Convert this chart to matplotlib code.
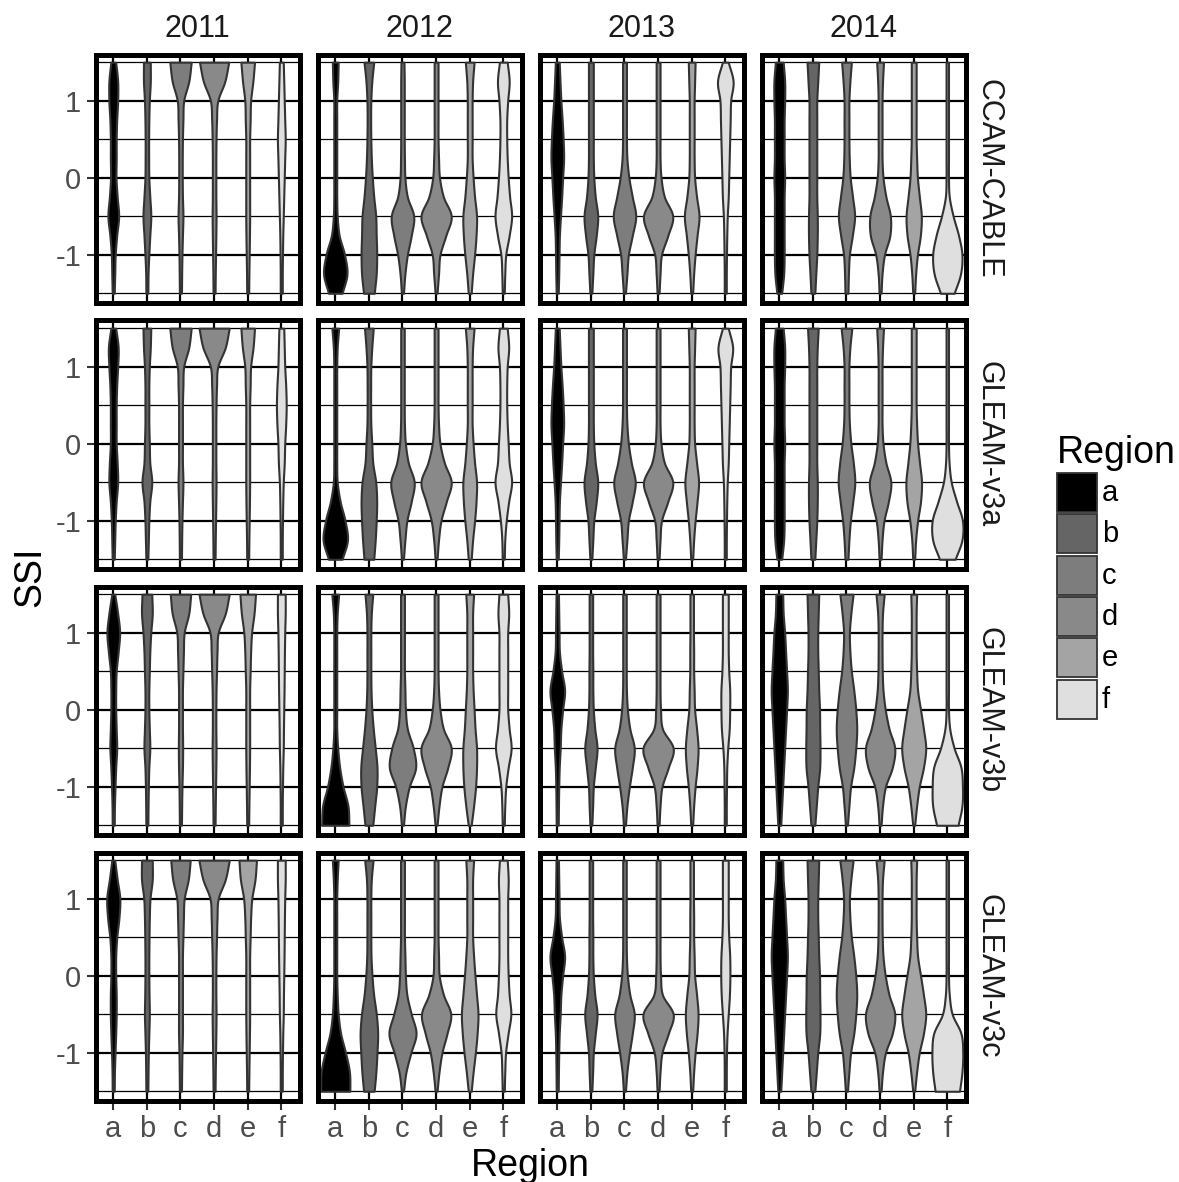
import numpy as np
import matplotlib
matplotlib.use("Agg")
import matplotlib.pyplot as plt
from matplotlib.patches import Rectangle

plt.rcParams['font.family'] = ['Liberation Sans', 'DejaVu Sans']

# SSI levels at which the violin half-widths were read
levels = [-1.5, -1.25, -1.0, -0.75, -0.5, -0.25, 0.0, 0.25, 0.5, 0.75, 1.0, 1.25, 1.5]
regions = ['a', 'b', 'c', 'd', 'e', 'f']
years = ['2011', '2012', '2013', '2014']
sources = ['CCAM-CABLE', 'GLEAM-v3a', 'GLEAM-v3b', 'GLEAM-v3c']
fills = ['#000000', '#656565', '#7d7d7d', '#898989', '#a4a4a4', '#dfdfdf']

# relative density (violin half-width) per region, rows a..f, columns = levels
ccam_2011 = [
    [1, 1.5, 2, 3.5, 5.5, 4, 2.8, 3, 3, 3.5, 4.5, 4.5, 2.5],
    [1, 1.2, 2, 3, 4, 3, 2, 1.8, 1.8, 2, 2.5, 3.5, 3.5],
    [1, 1.2, 1.5, 2, 2.5, 2, 1.8, 1.8, 2, 2.5, 3.3, 8.5, 11],
    [1, 1.2, 1.5, 1.8, 2, 1.8, 1.8, 1.8, 2, 2.5, 3.8, 11, 15],
    [1, 1.2, 1.5, 1.8, 2, 2, 2, 2, 2, 2.5, 3, 5.3, 7],
    [1, 1, 1.2, 1.5, 2, 2.5, 3, 3.5, 4, 3.5, 3, 2.5, 2],
]
ccam_2012 = [
    [7, 12, 9.5, 4, 2, 1.5, 1.5, 1.5, 1.5, 1.5, 1.5, 2.5, 3],
    [5.5, 7.5, 8, 7.5, 7, 5, 3.5, 2.5, 2, 1.8, 2, 3, 5],
    [1, 2.5, 5, 9, 11.5, 5, 2.5, 2, 1.8, 1.8, 1.8, 1.8, 1.5],
    [1, 2.5, 4, 10, 15.5, 7.5, 3.5, 2.5, 2, 2, 2, 2, 2],
    [1.5, 3, 5, 6.5, 7, 5, 3.5, 2.5, 2.5, 2.5, 2.5, 3, 4.5],
    [1, 1.5, 2.5, 6, 8.5, 6.5, 5, 4, 3.5, 3.5, 4.5, 6, 4],
]
ccam_2013 = [
    [1, 1.5, 1.8, 2.2, 3.3, 4.5, 5.5, 6.5, 6, 5, 3.7, 2.8, 2],
    [1, 2, 3, 5.5, 7, 4.5, 3, 2.5, 2.5, 2.5, 2.5, 2.5, 2.5],
    [1, 2.5, 4, 8, 11.5, 8, 4.5, 2.5, 2, 2, 2, 2, 2],
    [1, 2, 3.5, 10, 15, 6.5, 3, 2, 2, 2, 2, 2, 2],
    [1, 2, 3.5, 5.5, 7.5, 5, 3, 2.5, 2.5, 2.5, 2.5, 3, 3.5],
    [1, 1, 1.2, 1.5, 2, 3, 3.5, 4, 4.5, 5, 5.5, 8, 3],
]
ccam_2014 = [
    [2.5, 4.5, 5, 5, 5, 5, 5.5, 5, 5, 5, 5.5, 5.5, 4],
    [2, 3, 4, 4.5, 4.5, 4, 4, 4, 4, 4, 4, 5, 6],
    [1.5, 2, 3, 6, 8.3, 6.2, 3.8, 2.8, 2.5, 2.5, 2.5, 3.5, 5],
    [1, 2, 4.5, 10, 10.5, 6, 3, 2, 2, 2, 2, 2.5, 3.5],
    [1, 2, 3.8, 6.8, 7.8, 5.8, 3.8, 3, 2.5, 2.5, 2.5, 2.5, 2.5],
    [7, 13.5, 15, 11.5, 6, 2, 1.2, 1.2, 1.2, 1.2, 1.2, 1.2, 1.2],
]

v3a_2011 = [
    [1, 1.5, 2, 3, 4.5, 4, 3, 3, 3, 3.5, 4.5, 5, 2.5],
    [1, 1.5, 2, 3, 5, 3, 2.5, 2, 2, 2, 2.5, 3.5, 4],
    [1, 1.2, 1.5, 2, 2.5, 2, 2, 2, 2, 2.5, 3.3, 8.5, 11],
    [1, 1.2, 1.5, 1.8, 2, 1.8, 1.8, 1.8, 2, 2.5, 3.8, 11.5, 15.5],
    [1, 1.2, 1.5, 1.8, 2, 2, 2, 2, 2, 2.5, 3, 5.5, 7],
    [1, 1, 1.2, 1.5, 2, 3, 3.5, 4.5, 5, 4.5, 3.5, 3, 2.5],
]
v3a_2012 = [
    [7, 12.5, 10, 5, 2, 1.5, 1.5, 1.5, 1.5, 1.5, 1.5, 2, 3.5],
    [5, 6.5, 7.5, 8, 7, 4, 3, 2, 1.8, 1.8, 2, 3, 4.5],
    [1, 2.5, 4.5, 9, 12, 6, 3, 2, 1.8, 1.8, 1.8, 1.8, 1.8],
    [1, 2.5, 5, 10.5, 15.5, 8.5, 4, 2.5, 2, 2, 2, 2, 2],
    [1.5, 3, 5, 6.5, 7, 5, 3.5, 2.5, 2.5, 2.5, 2.5, 3, 4.5],
    [1, 1.5, 3, 5.5, 8.5, 6, 5, 4, 3.5, 3.5, 4, 5.5, 4],
]
v3a_2013 = [
    [1, 1.5, 1.8, 2.2, 3.3, 4.5, 5.5, 6.5, 6, 5, 3.7, 2.8, 2],
    [1, 2, 3, 5.5, 7, 4.5, 3, 2.5, 2.5, 2.5, 2.5, 2.5, 2.5],
    [1, 2.5, 4, 8, 11, 7, 4, 2.5, 2, 2, 2, 2, 2],
    [1, 2, 3.5, 10, 15, 6.5, 3, 2, 2, 2, 2, 2, 2],
    [1, 2, 3.5, 5.5, 7, 5, 3, 2.5, 2.5, 2.5, 2.5, 3, 3.5],
    [1, 1, 1.2, 1.5, 2, 3, 3.5, 4, 4.5, 5, 5.5, 7.5, 3],
]
v3a_2014 = [
    [2.5, 4.5, 5, 5, 5, 5, 5.5, 5, 5, 5, 5.5, 5.5, 4],
    [2, 3, 4, 4.5, 4.5, 4, 4, 4, 4, 4, 4, 4.5, 5.5],
    [1.5, 2.5, 4, 6.5, 8.5, 7, 4.5, 3, 2.5, 2.5, 2.5, 3.5, 5.5],
    [1, 2, 4, 8.5, 11, 6, 3, 2, 2, 2, 2, 2.5, 3.5],
    [1, 2, 4, 7, 8, 6, 4, 3, 2.5, 2.5, 2.5, 2.5, 2.5],
    [8, 15, 15.5, 9.5, 4, 1.8, 1.2, 1.2, 1.2, 1.2, 1.2, 1.2, 1.2],
]

v3b_2011 = [
    [1, 1.2, 1.8, 2.5, 3.5, 3, 2.5, 2.5, 3, 5, 6.5, 4.5, 1.5],
    [1, 1.2, 1.5, 2, 3, 2.5, 2, 2, 2.5, 3, 4, 5.5, 5],
    [1, 1.2, 1.5, 2, 2.2, 2, 2, 2, 2.5, 3, 3.8, 8.5, 10.5],
    [1, 1.2, 1.5, 1.8, 2, 1.8, 1.8, 2, 2.5, 3, 4.2, 11.5, 15.5],
    [1, 1.2, 1.5, 1.8, 2, 2, 2, 2, 2.5, 3, 4, 6.5, 8],
    [1, 1, 1.2, 1.5, 2, 2.2, 2.5, 2.8, 3, 3.2, 3.5, 4, 4],
]
v3b_2012 = [
    [14, 13, 8, 4.5, 2.5, 1.5, 1.5, 1.5, 1.5, 1.5, 1.5, 2, 3.5],
    [4, 6, 8, 8.3, 6.5, 4.5, 3, 2.2, 2, 2, 2, 2.5, 4],
    [1, 3, 7, 13.5, 11, 5, 3, 2.5, 2, 2, 2, 2, 2],
    [1, 3, 6, 12, 15.5, 7.5, 4, 2.5, 2, 2, 2, 2, 2],
    [1.5, 4, 6, 7, 7, 5.5, 4.5, 3.5, 3, 3, 3, 3, 4],
    [1, 1.5, 2.5, 5, 8, 6, 4.5, 4.5, 4.5, 4.5, 4.5, 5.5, 4.5],
]
v3b_2013 = [
    [1, 1.2, 1.5, 2, 3, 3.7, 5.5, 7.5, 4.5, 2.2, 1.8, 1.5, 1.2],
    [1, 1.8, 2.5, 4.5, 6.3, 4, 2.5, 2, 2, 1.8, 1.8, 1.8, 1.8],
    [1, 2.5, 5, 8, 10, 5.5, 3, 2, 1.8, 1.8, 1.8, 1.8, 1.8],
    [1, 2, 4, 10.5, 15.5, 4.5, 2.5, 2, 2, 2, 2, 2, 2],
    [1, 2, 3.5, 5.5, 6.5, 5, 3, 2.5, 2, 2, 1.8, 1.8, 1.8],
    [1, 1, 1.2, 1.5, 2.5, 4, 4.5, 4.5, 3.5, 3, 3, 3, 3],
]
v3b_2014 = [
    [1.5, 2.5, 3.5, 4.5, 5.5, 6.5, 7.5, 8.3, 7.5, 6.5, 5.5, 4, 3.5],
    [2, 3.5, 5, 7, 7.3, 7, 6.8, 6, 5.5, 5, 5, 5.5, 6],
    [1, 2.5, 4.2, 7.5, 9.5, 10.5, 9.5, 7.5, 5, 3.5, 3, 4.5, 6.8],
    [1, 2.5, 5.5, 12.5, 15, 9.2, 5.3, 3, 2.2, 2, 2, 2.5, 4.2],
    [1, 3, 5.7, 10, 12.3, 10, 7, 4, 3, 2.5, 2.5, 2.5, 3],
    [11, 15, 15.5, 14, 7, 2.5, 1.2, 1.2, 1.2, 1.2, 1.2, 1.2, 1.2],
]

v3c_2011 = [
    [1, 1.2, 1.8, 2.5, 3, 3, 2.5, 2.5, 3.6, 5.8, 6.7, 4, 1.5],
    [1, 1.2, 1.5, 2, 2.5, 2.2, 2, 2, 2.2, 2.5, 3.2, 5.5, 5.5],
    [1, 1.2, 1.5, 2, 2, 2, 2, 2, 2.5, 3, 3.8, 8, 10],
    [1, 1.2, 1.5, 1.8, 2, 1.8, 1.8, 2, 2.5, 3, 4.2, 11.5, 15.6],
    [1, 1.2, 1.5, 1.8, 2, 2, 2, 2, 2.5, 3, 4.2, 7.5, 9],
    [1, 1, 1.2, 1.5, 2, 2.2, 2.5, 2.8, 3, 3.2, 3.5, 4, 4],
]
v3c_2012 = [
    [15, 14.5, 10.5, 5.5, 3, 2, 1.5, 1.5, 1.5, 1.5, 1.5, 2, 3],
    [5.4, 7.2, 8.3, 9, 7.6, 4.9, 3.2, 2.2, 2, 2, 2, 2.5, 4.3],
    [1, 3.6, 8.6, 13.9, 9, 4.5, 3, 2.5, 2, 2, 2, 2, 2],
    [1, 3, 6, 11.2, 15, 7.6, 3.2, 2.5, 2, 2, 2, 2, 2],
    [1.5, 3.5, 5.8, 7.6, 8.5, 7, 5.4, 4, 3, 3, 3, 3, 4],
    [1, 1.5, 2.3, 4.9, 7.7, 6, 5, 4.5, 4.5, 4.5, 4.5, 5, 4],
]
v3c_2013 = [
    [1, 1.2, 1.5, 2, 3, 3.7, 5.5, 7.5, 4.5, 2.2, 1.8, 1.5, 1.2],
    [1, 1.8, 2.5, 4.5, 6.3, 4, 2.5, 2, 2, 1.8, 1.8, 1.8, 1.8],
    [1, 2.5, 5, 8, 10, 5.5, 3, 2, 1.8, 1.8, 1.8, 1.8, 1.8],
    [1, 2, 4, 10.5, 15.5, 4.5, 2.5, 2, 2, 2, 2, 2, 2],
    [1, 2, 3.5, 5.5, 6.5, 5, 3, 2.5, 2, 2, 1.8, 1.8, 1.8],
    [1, 1, 1.2, 1.8, 3, 4.2, 4.7, 4.5, 3.5, 3, 3, 3, 3],
]
v3c_2014 = [
    [1.5, 2.5, 3.5, 4.5, 5.5, 6.5, 7.5, 8.3, 7.5, 6.5, 5.5, 4, 3.5],
    [2, 3.5, 5, 7, 7.3, 7, 6.8, 6, 5.5, 5, 5, 5.5, 6],
    [1, 2.5, 4.2, 7.5, 9.5, 10.5, 9.5, 7.5, 5, 3.5, 3, 4.5, 6.8],
    [1, 2.5, 5.5, 12.5, 15, 9.2, 5.3, 3, 2.2, 2, 2, 2.5, 4.2],
    [1, 3, 5.7, 10, 12.3, 10, 7, 4, 3, 2.5, 2.5, 2.5, 3],
    [12.5, 15, 15.8, 14, 5, 2, 1.2, 1.2, 1.2, 1.2, 1.2, 1.2, 1.2],
]

panels = [
    [ccam_2011, ccam_2012, ccam_2013, ccam_2014],
    [v3a_2011, v3a_2012, v3a_2013, v3a_2014],
    [v3b_2011, v3b_2012, v3b_2013, v3b_2014],
    [v3c_2011, v3c_2012, v3c_2013, v3c_2014],
]

width_scale = 0.45 / 15.5  # widest violin -> 0.9 of a category


def smooth(y, w, n=10):
    # cubic hermite (catmull-rom) through the read values, for a smooth outline
    y = np.asarray(y, float)
    w = np.asarray(w, float)
    m = np.gradient(w, y)
    ys, ws = [], []
    t = np.linspace(0, 1, n, endpoint=False)
    for i in range(len(y) - 1):
        h = y[i + 1] - y[i]
        h00 = 2 * t**3 - 3 * t**2 + 1
        h10 = t**3 - 2 * t**2 + t
        h01 = -2 * t**3 + 3 * t**2
        h11 = t**3 - t**2
        ws.append(h00 * w[i] + h10 * h * m[i] + h01 * w[i + 1] + h11 * h * m[i + 1])
        ys.append(y[i] + t * h)
    ys.append([y[-1]])
    ws.append([w[-1]])
    return np.concatenate(ys), np.clip(np.concatenate(ws), 0.7, None)


W, H = 1179, 1182
fig = plt.figure(figsize=(W / 100, H / 100), dpi=100)

col_left = [95.8, 317.8, 539.8, 761.8]
row_top = [54.5, 320.5, 586.5, 852.5]
pw, ph = 204, 248

for r, src in enumerate(sources):
    for c, yr in enumerate(years):
        ax = fig.add_axes([col_left[c] / W, 1 - (row_top[r] + ph) / H, pw / W, ph / H])
        ax.set_xlim(0.48, 6.55)
        ax.set_ylim(-1.62, 1.60)
        ax.set_axisbelow(True)
        ax.set_xticks(range(1, 7))
        ax.set_xticklabels(regions)
        ax.set_yticks([-1, 0, 1])
        ax.set_yticklabels(['-1', '0', '1'])
        ax.set_yticks([-1.5, -0.5, 0.5, 1.5], minor=True)
        ax.grid(which='major', color='black', linewidth=1.6)
        ax.grid(which='minor', axis='y', color='black', linewidth=0.9)
        ax.tick_params(which='minor', length=0)
        ax.tick_params(which='major', direction='out', length=6.5, width=1.5,
                       color='#333333', labelcolor='#4d4d4d', labelsize=21, pad=4)
        if c > 0:
            ax.tick_params(axis='y', length=0, labelleft=False)
        if r < 3:
            ax.tick_params(axis='x', length=0, labelbottom=False)
        for sp in ax.spines.values():
            sp.set_linewidth(3.6)
            sp.set_color('black')
            sp.set_zorder(5)

        for k, dens in enumerate(panels[r][c]):
            ys, hw = smooth(levels, dens)
            hw = hw * width_scale
            ax.fill_betweenx(ys, k + 1 - hw, k + 1 + hw, facecolor=fills[k],
                             edgecolor='#333333', linewidth=1.5, zorder=3)

# strip labels
for c, yr in enumerate(years):
    fig.text((col_left[c] + pw / 2) / W, 1 - 29 / H, yr, ha='center', va='center',
             fontsize=22, color='#1a1a1a')
for r, src in enumerate(sources):
    fig.text(988 / W, 1 - (row_top[r] + ph / 2) / H, src, ha='center', va='center',
             rotation=-90, fontsize=22, color='#1a1a1a')

# axis titles
fig.text(530.8 / W, 1 - 1176 / H, 'Region', ha='center', va='baseline', fontsize=27)
fig.text(30 / W, 1 - 577 / H, 'SSI', ha='center', va='center', rotation=90, fontsize=27)

# legend
fig.text(1057 / W, 1 - 463 / H, 'Region', ha='left', va='baseline', fontsize=27)
for k, lab in enumerate(regions):
    top = 473 + k * 41.3
    fig.patches.append(Rectangle((1057 / W, 1 - (top + 39) / H), 40 / W, 39 / H,
                                 transform=fig.transFigure, facecolor=fills[k],
                                 edgecolor='#333333', linewidth=1.3))
    fig.text(1102 / W, 1 - (top + 20) / H, lab, ha='left', va='center', fontsize=21)

fig.savefig('out.png', dpi=100)
